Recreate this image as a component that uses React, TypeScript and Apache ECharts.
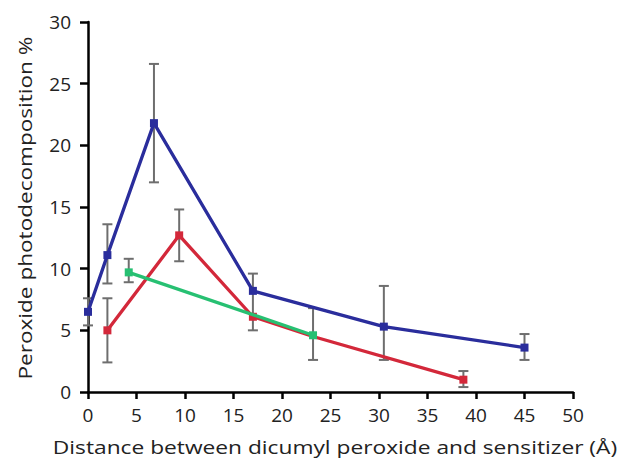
import React, { useEffect, useRef } from "react";
import * as echarts from "echarts";

const xTicks = [0, 5, 10, 15, 20, 25, 30, 35, 40, 45, 50];
const yTicks = [0, 5, 10, 15, 20, 25, 30];
const xTitle = "Distance between dicumyl peroxide and sensitizer (Å)";
const yTitle = "Peroxide photodecomposition %";

// [x, y, low, high]
const blueData = [
  [0, 6.5, 5.4, 7.6],
  [2, 11.1, 8.8, 13.6],
  [6.8, 21.8, 17.0, 26.6],
  [17, 8.2, 5.0, 9.6],
  [30.5, 5.3, 2.6, 8.6],
  [45, 3.6, 2.6, 4.7],
];
const redData = [
  [2, 5.0, 2.4, 7.6],
  [9.4, 12.7, 10.6, 14.8],
  [17, 6.1, null, null],
  [23.2, 4.5, null, null],
  [38.7, 1.0, 0.4, 1.7],
];
const greenData = [
  [4.2, 9.7, 8.9, 10.8],
  [23.2, 4.6, 2.6, 6.8],
];

const BLUE = "#2a2d9c";
const RED = "#d3283a";
const GREEN = "#27c072";
const ERR = "#6e6e6e";

function errSeries(data: (number | null)[][]) {
  return {
    type: "custom",
    z: 1,
    silent: true,
    data: data.filter((d) => d[2] != null).map((d) => [d[0], d[2], d[3]]),
    encode: { x: 0, y: [1, 2] },
    renderItem: (params: any, api: any) => {
      const x = api.value(0);
      const lo = api.coord([x, api.value(1)]);
      const hi = api.coord([x, api.value(2)]);
      const w = 5;
      const style = { stroke: ERR, lineWidth: 2 };
      return {
        type: "group",
        children: [
          { type: "line", shape: { x1: lo[0], y1: lo[1], x2: hi[0], y2: hi[1] }, style },
          { type: "line", shape: { x1: lo[0] - w, y1: lo[1], x2: lo[0] + w, y2: lo[1] }, style },
          { type: "line", shape: { x1: hi[0] - w, y1: hi[1], x2: hi[0] + w, y2: hi[1] }, style },
        ],
      };
    },
  };
}

function lineSeries(data: (number | null)[][], color: string, z: number, showIdx?: number[]) {
  return {
    type: "line",
    z,
    data: data.map((d, i) => ({
      value: [d[0], d[1]],
      symbolSize: showIdx && !showIdx.includes(i) ? 0 : 8,
    })),
    symbol: "rect",
    symbolSize: 8,
    showAllSymbol: true,
    lineStyle: { color, width: 3.3 },
    itemStyle: { color },
  };
}

export default function App() {
  const ref = useRef<HTMLDivElement>(null);
  useEffect(() => {
    if (!ref.current) return;
    const chart = echarts.init(ref.current, null, { renderer: "svg" });
    const font = "'Open Sans', 'Noto Sans', sans-serif";
    const titleStyle = {
      fontFamily: font,
      fontSize: 17.5,
      fill: "#222",
      align: "center",
      verticalAlign: "middle",
      textAlign: "center",
      textVerticalAlign: "middle",
    };
    chart.setOption({
      animation: false,
      backgroundColor: "#ffffff",
      grid: { left: 88, right: 48, top: 22, bottom: 66, containLabel: false },
      xAxis: {
        type: "value",
        min: 0,
        max: 50,
        interval: 5,
        axisLine: { lineStyle: { color: "#000", width: 2.5 } },
        axisTick: { show: true, length: 7, lineStyle: { color: "#000", width: 2.5 } },
        axisLabel: { fontFamily: font, fontSize: 19, color: "#222", margin: 13, formatter: (v: number) => (xTicks.includes(v) ? String(v) : "") },
        splitLine: { show: false },
      },
      yAxis: {
        type: "value",
        min: 0,
        max: 30,
        interval: 5,
        axisLine: { show: true, lineStyle: { color: "#000", width: 2.5 } },
        axisTick: { show: true, length: 8, lineStyle: { color: "#000", width: 2.5 } },
        axisLabel: { fontFamily: font, fontSize: 19, color: "#222", margin: 17, formatter: (v: number) => (yTicks.includes(v) ? String(v) : "") },
        splitLine: { show: false },
      },
      graphic: [
        { type: "text", x: 335, y: 447, scaleX: 1.3, style: { ...titleStyle, text: xTitle } },
        { type: "text", x: 25, y: 208, rotation: Math.PI / 2, scaleX: 1.29, style: { ...titleStyle, text: yTitle } },
      ],
      series: [
        errSeries(blueData),
        errSeries(redData),
        errSeries(greenData),
        lineSeries(redData, RED, 3, [0, 1, 2, 4]),
        lineSeries(greenData, GREEN, 4),
        lineSeries(blueData, BLUE, 5),
      ],
    });
    return () => chart.dispose();
  }, []);
  return <div ref={ref} style={{ width: 621, height: 458, position: "absolute", left: 0, top: 0 }} />;
}
